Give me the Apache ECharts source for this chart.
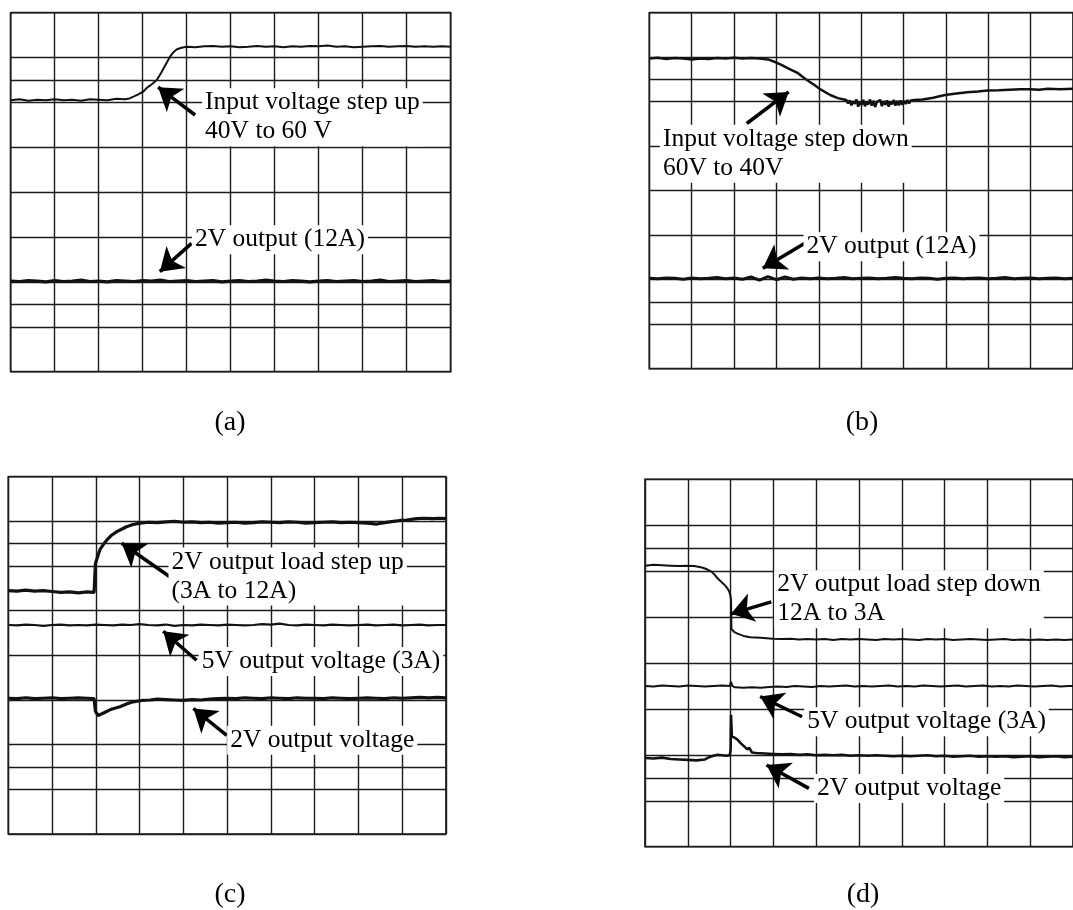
<!DOCTYPE html>
<html><head><meta charset="utf-8">
<script src="https://cdn.jsdelivr.net/npm/echarts/dist/echarts.min.js"></script>
<style>html,body{margin:0;padding:0;background:#fff}#c{width:1073px;height:910px}</style>
</head><body><div id="c"></div>
<script>
// shared sampling grid (divisions)
const xGrid = [0,0.2,0.4,0.6,0.8,1.0,1.2,1.4,1.6,1.8,
  2.0,2.2,2.4,2.6,2.8,3.0,3.2,3.4,3.6,3.8,
  4.0,4.2,4.4,4.6,4.8,5.0,5.2,5.4,5.6,5.8,
  6.0,6.2,6.4,6.6,6.8,7.0,7.2,7.4,7.6,7.8,
  8.0,8.2,8.4,8.6,8.8,9.0,9.2,9.4,9.6,9.8,10];

// extra horizontal graticule lines (divisions from bottom)
const extraLevels = [6.5, 1.5];

// (a) input voltage step up
const aInput = [[0,6.05],[0.2,6.07],[0.4,6.04],[0.6,6.06],[0.8,6.05],[1.0,6.07],[1.2,6.05],[1.4,6.06],[1.6,6.04],[1.8,6.07],
  [2.0,6.06],[2.2,6.05],[2.4,6.08],[2.6,6.07],[2.7,6.09],[2.79,6.13],[2.9,6.18],[3.01,6.24],[3.1,6.33],[3.2,6.40],
  [3.32,6.50],[3.42,6.66],[3.52,6.84],[3.62,7.02],[3.7,7.12],[3.77,7.18],[3.88,7.22],[4.0,7.24],[4.2,7.23],[4.4,7.25],
  [4.6,7.26],[4.8,7.24],[5.0,7.25],[5.2,7.23],[5.4,7.24],[5.6,7.26],[5.8,7.24],[6.0,7.25],[6.2,7.23],[6.4,7.25],
  [6.6,7.24],[6.8,7.26],[7.0,7.25],[7.2,7.27],[7.4,7.24],[7.6,7.25],[7.8,7.23],[8.0,7.24],[8.2,7.25],[8.4,7.26],
  [8.6,7.24],[8.8,7.25],[9.0,7.26],[9.2,7.24],[9.4,7.25],[9.6,7.24],[9.8,7.25],[10,7.24]];
const aOut2V = [2.02,2.01,2.03,2.02,2.00,2.03,2.01,2.02,2.04,2.01,
  2.02,2.00,2.03,2.02,2.01,2.03,2.02,2.04,2.01,2.02,
  2.03,2.01,2.02,2.03,2.00,2.02,2.03,2.01,2.02,2.04,
  2.02,2.01,2.03,2.02,2.00,2.02,2.03,2.01,2.02,2.03,
  2.01,2.02,2.04,2.01,2.02,2.03,2.01,2.02,2.03,2.01,2.02];

// (b) input voltage step down
const bInput = [[0,6.97],[0.2,6.99],[0.4,6.96],[0.6,6.98],[0.8,6.97],[1.0,6.95],[1.2,6.97],[1.4,6.96],[1.6,6.98],[1.8,6.97],
  [2.0,6.99],[2.2,6.97],[2.4,6.98],[2.6,6.97],[2.8,6.95],[3.0,6.88],[3.13,6.82],[3.3,6.74],[3.51,6.64],[3.7,6.50],
  [3.89,6.38],[4.05,6.27],[4.27,6.15],[4.45,6.08],[4.65,6.04],
  [4.69,5.96],[4.73,6.03],[4.77,5.92],[4.81,6.01],[4.85,5.95],[4.89,6.05],[4.93,5.89],[4.97,6.00],[5.01,5.93],[5.05,6.04],
  [5.09,5.90],[5.13,5.99],[5.17,5.94],[5.21,6.05],[5.25,5.91],[5.29,6.02],[5.33,5.88],[5.37,5.99],[5.41,5.95],[5.45,6.04],
  [5.49,5.90],[5.53,6.01],[5.57,5.93],[5.61,6.03],[5.65,5.89],[5.69,6.00],[5.73,5.94],[5.77,6.04],[5.81,5.91],[5.85,6.02],
  [5.89,5.92],[5.93,6.03],[5.97,5.93],[6.01,6.02],[6.05,5.95],[6.09,6.04],[6.13,5.96],[6.17,6.03],[6.21,5.99],[6.25,6.04],
  [6.45,6.05],[6.7,6.09],[6.98,6.15],[7.2,6.18],[7.5,6.21],[7.75,6.23],[7.98,6.25],[8.25,6.26],[8.5,6.27],
  [8.75,6.28],[8.99,6.28],[9.2,6.27],[9.4,6.29],[9.7,6.28],[10,6.29]];
const bOut2V = [2.03,2.02,2.04,2.03,2.01,2.04,2.02,2.03,2.05,2.02,
  2.04,2.01,2.06,1.99,2.07,2.00,2.06,2.01,2.04,2.02,
  2.04,2.02,2.03,2.05,2.02,2.03,2.04,2.02,2.03,2.05,
  2.03,2.02,2.04,2.03,2.01,2.03,2.04,2.02,2.03,2.04,
  2.02,2.03,2.05,2.02,2.03,2.04,2.02,2.03,2.04,2.02,2.03];

// (c) 2V output load step up
const cLoad = [[0,5.45],[0.2,5.44],[0.4,5.46],[0.6,5.44],[0.8,5.45],[1.0,5.43],[1.2,5.41],[1.4,5.42],[1.6,5.40],[1.8,5.42],
  [1.96,5.41],[1.99,6.05],[2.03,6.18],[2.09,6.36],[2.17,6.48],[2.25,6.58],[2.36,6.69],[2.48,6.77],[2.6,6.83],[2.70,6.88],
  [2.85,6.93],[3.01,6.96],[3.2,6.98],[3.4,6.97],[3.62,6.99],[3.8,7.00],[4.0,6.98],[4.2,6.99],[4.4,6.97],[4.6,6.98],
  [4.8,6.96],[5.0,6.97],[5.2,6.98],[5.4,6.96],[5.6,6.97],[5.8,6.99],[6.0,6.98],[6.2,6.97],[6.4,6.99],[6.6,6.98],
  [6.8,6.96],[7.0,6.97],[7.2,6.98],[7.4,6.99],[7.6,6.97],[7.8,6.98],[8.0,6.97],[8.2,6.96],[8.42,6.94],[8.6,6.97],
  [8.8,7.00],[8.95,7.02],[9.1,7.03],[9.33,7.06],[9.5,7.07],[9.7,7.06],[9.85,7.07],[10,7.06]];
const c5V = [4.68,4.67,4.69,4.68,4.66,4.68,4.69,4.67,4.68,4.67,
  4.69,4.68,4.67,4.69,4.68,4.70,4.68,4.67,4.69,4.66,
  4.68,4.67,4.69,4.68,4.67,4.69,4.68,4.67,4.68,4.70,
  4.69,4.71,4.68,4.67,4.69,4.68,4.67,4.69,4.68,4.67,
  4.68,4.69,4.67,4.68,4.69,4.67,4.68,4.69,4.67,4.68,4.68];
const c2V = [[0,3.04],[0.2,3.03],[0.4,3.05],[0.6,3.03],[0.8,3.04],[1.0,3.05],[1.2,3.03],[1.4,3.04],[1.6,3.05],[1.8,3.04],
  [1.96,3.03],[1.99,2.75],[2.05,2.65],[2.09,2.63],[2.2,2.72],[2.32,2.78],[2.45,2.82],[2.55,2.85],[2.7,2.91],[2.85,2.96],
  [3.05,2.99],[3.24,3.00],[3.4,3.02],[3.6,3.01],[3.8,3.00],[4.0,2.99],[4.2,3.01],[4.4,3.00],[4.6,3.02],[4.8,3.03],
  [5.0,3.04],[5.2,3.03],[5.4,3.05],[5.6,3.04],[5.8,3.03],[6.0,3.05],[6.2,3.04],[6.4,3.03],[6.6,3.05],[6.8,3.04],
  [7.0,3.04],[7.2,3.03],[7.4,3.05],[7.6,3.04],[7.8,3.03],[8.0,3.04],[8.2,3.05],[8.4,3.04],[8.6,3.03],[8.8,3.05],
  [9.0,3.04],[9.2,3.05],[9.4,3.06],[9.6,3.05],[9.8,3.06],[10,3.05]];

// (d) 2V output load step down
const dLoad = [[0,6.12],[0.2,6.14],[0.4,6.13],[0.6,6.12],[0.8,6.11],[1.0,6.12],[1.15,6.11],[1.33,6.08],[1.45,6.04],[1.55,5.99],
  [1.63,5.92],[1.70,5.84],[1.78,5.77],[1.86,5.70],[1.93,5.62],[1.97,5.55],[2.0,5.45],[2.01,5.37],[2.02,4.74],[2.08,4.68],
  [2.16,4.64],[2.3,4.59],[2.46,4.56],[2.7,4.55],[2.99,4.53],[3.2,4.52],[3.4,4.53],[3.6,4.51],[3.8,4.52],[4.0,4.51],
  [4.2,4.52],[4.4,4.50],[4.6,4.52],[4.8,4.51],[5.0,4.52],[5.2,4.51],[5.4,4.50],[5.6,4.52],[5.8,4.51],[6.0,4.52],
  [6.2,4.51],[6.4,4.50],[6.6,4.52],[6.8,4.51],[7.0,4.52],[7.2,4.50],[7.4,4.51],[7.6,4.52],[7.8,4.51],[8.0,4.50],
  [8.2,4.51],[8.4,4.52],[8.6,4.50],[8.8,4.51],[9.0,4.50],[9.2,4.51],[9.4,4.50],[9.6,4.51],[9.8,4.50],[10,4.51]];
const d5V = [[0,3.50],[0.2,3.49],[0.4,3.51],[0.6,3.50],[0.8,3.49],[1.0,3.51],[1.2,3.50],[1.4,3.49],[1.6,3.50],[1.8,3.51],
  [1.98,3.50],[2.01,3.59],[2.04,3.50],[2.1,3.47],[2.3,3.46],[2.5,3.47],[2.7,3.46],[2.9,3.48],[3.1,3.49],[3.3,3.48],
  [3.5,3.50],[3.7,3.49],[3.9,3.48],[4.1,3.50],[4.3,3.49],[4.5,3.50],[4.7,3.51],[4.9,3.49],[5.1,3.50],[5.3,3.49],
  [5.5,3.50],[5.7,3.51],[5.9,3.49],[6.1,3.50],[6.3,3.49],[6.5,3.51],[6.7,3.50],[6.9,3.49],[7.1,3.50],[7.3,3.51],
  [7.5,3.49],[7.7,3.50],[7.9,3.51],[8.1,3.49],[8.3,3.50],[8.5,3.49],[8.7,3.51],[8.9,3.50],[9.1,3.49],[9.3,3.50],
  [9.5,3.51],[9.7,3.49],[9.9,3.50],[10,3.50]];
const d2V = [[0,1.93],[0.2,1.92],[0.4,1.94],[0.6,1.91],[0.8,1.90],[1.0,1.89],[1.2,1.88],[1.4,1.90],[1.5,1.95],[1.6,1.98],
  [1.7,2.00],[1.8,1.99],[1.9,1.98],[1.98,1.99],[2.0,2.10],[2.01,2.87],[2.03,2.40],[2.08,2.38],[2.16,2.33],[2.24,2.25],
  [2.31,2.19],[2.39,2.12],[2.44,2.15],[2.5,2.05],[2.6,2.04],[2.8,2.03],[3.0,2.02],[3.2,2.01],[3.4,2.02],[3.6,2.00],
  [3.8,2.01],[4.0,1.99],[4.2,2.00],[4.4,1.99],[4.6,2.00],[4.8,1.98],[5.0,1.99],[5.2,1.98],[5.4,1.99],[5.6,1.98],
  [5.8,1.97],[6.0,1.98],[6.2,1.97],[6.4,1.98],[6.6,1.99],[6.8,1.97],[7.0,1.98],[7.2,1.96],[7.4,1.97],[7.6,1.98],
  [7.8,1.96],[8.0,1.97],[8.2,1.96],[8.4,1.97],[8.6,1.95],[8.8,1.96],[9.0,1.97],[9.2,1.95],[9.4,1.96],[9.6,1.97],
  [9.8,1.95],[10,1.96]];

const zip = (xs, ys) => xs.map((x, i) => [x, ys[i]]);

const panels = [
  { grid:{left:10.7, top:12.7, width:440, height:359},
    traces:[{data:aInput, w:2.0}, {data:zip(xGrid, aOut2V), w:3.2}],
    labels:[{text:'Input voltage step up\n40V to 60 V', at:[4.35,5.67]},
            {text:'2V output (12A)', at:[4.12,2.94]}],
    arrows:[[[4.19,5.72],[3.35,6.34]], [[4.11,2.86],[3.39,2.23]]] },
  { grid:{left:649.3, top:12.7, width:438, height:356},
    traces:[{data:bInput, w:2.5}, {data:zip(xGrid, bOut2V), w:3.0}],
    labels:[{text:'Input voltage step down\n60V to 40V', at:[0.25,4.83]},
            {text:'2V output (12A)', at:[3.64,2.74]}],
    arrows:[[[2.30,5.51],[3.29,6.22]], [[3.67,2.82],[2.68,2.26]]] },
  { grid:{left:8.3, top:476.7, width:437.7, height:357.3},
    traces:[{data:cLoad, w:3.2}, {data:zip(xGrid, c5V), w:2.2}, {data:c2V, w:3.2}],
    labels:[{text:'2V output load step up\n(3A to 12A)', at:[3.66,5.765]},
            {text:'5V output voltage (3A)', at:[4.35,3.86]},
            {text:'2V output voltage', at:[5.0,2.10]}],
    arrows:[[[3.69,5.76],[2.59,6.51]], [[4.30,3.89],[3.54,4.54]], [[4.99,2.21],[4.23,2.81]]] },
  { grid:{left:645, top:479.3, width:440, height:367.4},
    traces:[{data:dLoad, w:2.0}, {data:d5V, w:2.0}, {data:d2V, w:2.6}],
    labels:[{text:'2V output load step down\n12A to 3A', at:[3.02,5.39]},
            {text:'5V output voltage (3A)', at:[3.72,2.72]},
            {text:'2V output voltage', at:[3.95,1.27]}],
    arrows:[[[2.95,5.33],[2.01,5.07]], [[3.67,2.83],[2.69,3.27]], [[3.83,1.27],[2.84,1.78]]] }
];
const panelTags = ['(a)','(b)','(c)','(d)'];
const tagPos = [[230,423],[862,423],[230,895],[863,895]];

const FONT = 'Liberation Serif, Times New Roman, serif';
const grids = [], xAxes = [], yAxes = [], series = [];
const axisBase = {type:'value', axisLine:{show:false}, axisTick:{show:false}, axisLabel:{show:false},
  splitLine:{show:true, lineStyle:{color:'#1c1c1c', width:1.4}}};

panels.forEach((p, i) => {
  grids.push(Object.assign({show:true, borderColor:'#111', borderWidth:1.6, backgroundColor:'#fff'}, p.grid));
  xAxes.push(Object.assign({}, axisBase, {gridIndex:i, min:0, max:10, interval:1}));
  yAxes.push(Object.assign({}, axisBase, {gridIndex:i, min:0, max:8, interval:1}));
  // extra graticule lines
  series.push({type:'line', xAxisIndex:i, yAxisIndex:i, data:[], z:1, silent:true,
    markLine:{silent:true, animation:false, symbol:['none','none'], label:{show:false},
      lineStyle:{color:'#1c1c1c', width:1.4, type:'solid'},
      data: extraLevels.map(v => ({yAxis:v}))}});
  // traces
  p.traces.forEach(t => series.push({type:'line', xAxisIndex:i, yAxisIndex:i, data:t.data,
    showSymbol:false, symbol:'none', z:3, silent:true,
    lineStyle:{color:'#111', width:t.w}}));
  // labels
  series.push({type:'scatter', xAxisIndex:i, yAxisIndex:i, z:10, silent:true,
    symbolSize:0, itemStyle:{opacity:1},
    data:p.labels.map(l => [l.at[0], l.at[1], l.text]),
    label:{show:true, position:'right', distance:0, formatter:q => q.value[2],
      fontFamily:FONT, fontSize:25.5, lineHeight:29, color:'#000', opacity:1,
      backgroundColor:'#fff', padding:[0,3]}});
  // arrows
  series.push({type:'line', xAxisIndex:i, yAxisIndex:i, data:[], z:11, silent:true,
    markLine:{silent:true, animation:false, symbol:['none','arrow'], symbolSize:22, label:{show:false},
      lineStyle:{color:'#000', width:3.5, type:'solid', opacity:1},
      data: p.arrows.map(a => [{coord:a[0]}, {coord:a[1]}])}});
});

const chart = echarts.init(document.getElementById('c'), null, {renderer:'canvas'});
chart.setOption({
  animation:false,
  backgroundColor:'#fff',
  grid:grids, xAxis:xAxes, yAxis:yAxes, series:series,
  graphic: panelTags.map((t, i) => ({type:'text', x:tagPos[i][0], y:tagPos[i][1], silent:true,
    style:{text:t, fontFamily:FONT, fontSize:28, fill:'#000', align:'center', verticalAlign:'middle'}}))
});
</script>
</body></html>
